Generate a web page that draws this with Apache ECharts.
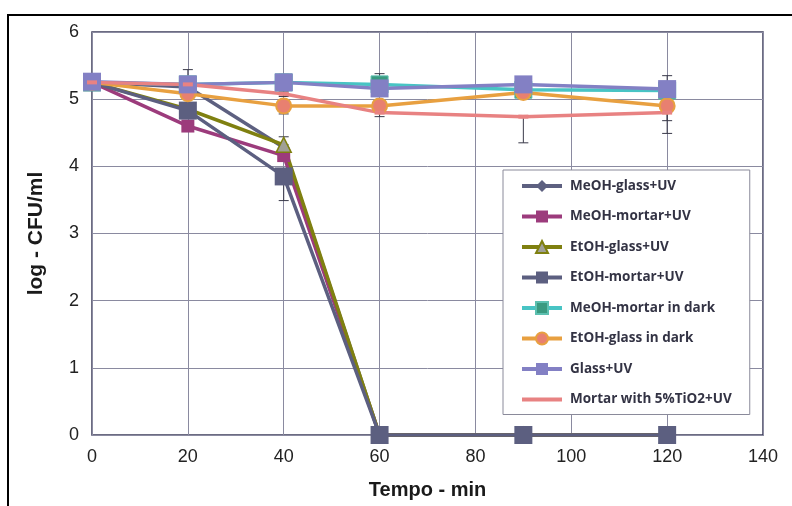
<!DOCTYPE html>
<html>
<head>
<meta charset="utf-8">
<script src="https://cdn.jsdelivr.net/npm/echarts@6/dist/echarts.min.js"></script>
<style>html,body{margin:0;padding:0;background:#fff;}#c{width:792px;height:506px;}</style>
</head>
<body>
<div id="c"></div>
<script>
const times = [0, 20, 40, 60, 90, 120];
const xTicks = [0, 20, 40, 60, 80, 100, 120, 140];
const yTicks = [0, 1, 2, 3, 4, 5, 6];
const seriesNames = ['MeOH-glass+UV','MeOH-mortar+UV','EtOH-glass+UV','EtOH-mortar+UV','MeOH-mortar in dark','EtOH-glass in dark','Glass+UV','Mortar with 5%TiO2+UV'];
const meohGlassUV   = [5.25, 5.18, 4.28, 0, 0, 0];
const meohMortarUV  = [5.25, 4.60, 4.16, 0, 0, 0];
const etohGlassUV   = [5.25, 4.85, 4.32, 0, 0, 0];
const etohMortarUV  = [5.25, 4.83, 3.85, 0, 0, 0];
const meohMortarDark= [5.25, 5.22, 5.25, 5.22, 5.14, 5.13];
const etohGlassDark = [5.25, 5.08, 4.90, 4.90, 5.10, 4.90];
const glassUV       = [5.26, 5.22, 5.25, 5.16, 5.22, 5.15];
const mortarTiO2UV  = [5.25, 5.22, 5.08, 4.80, 4.74, 4.80];
const errX    = [20, 40, 40, 40, 40, 40, 60, 60, 90, 120, 120, 120];
const errLow  = [5.22, 5.25, 5.04, 4.78, 4.32, 3.49, 5.22, 4.74, 4.35, 5.15, 4.68, 4.49];
const errHigh = [5.44, 5.37, 5.11, 4.90, 4.44, 3.85, 5.38, 4.83, 4.74, 5.35, 4.81, 4.90];

const pts = vals => times.map((t, i) => [t, vals[i]]);
function mk(name, vals, color, symbol, size, itemStyle) {
  return {
    name, type: 'line', data: pts(vals), clip: false,
    symbol, symbolSize: size,
    lineStyle: { color: color, width: 3.5 },
    itemStyle: Object.assign({ color: color }, itemStyle || {}),
    emphasis: { disabled: true }, animation: false
  };
}
const errData = errX.map((x, i) => [x, errLow[i], errHigh[i]]);
const legendData = seriesNames.map((n, i) => i === 7 ? { name: n, icon: 'path://M0,0H40V4H0Z' } : { name: n });
const chart = echarts.init(document.getElementById('c'));
chart.setOption({
  animation: false,
  backgroundColor: '#fff',
  graphic: [{ type: 'rect', shape: { x: 8, y: 15, width: 800, height: 520 }, style: { fill: 'none', stroke: '#000', lineWidth: 2 }, silent: true }],
  grid: { left: 92, right: 29, top: 32, bottom: 71, show: true, borderColor: '#3c3c5a', borderWidth: 1.5, backgroundColor: 'transparent' },
  xAxis: {
    type: 'value', min: xTicks[0], max: xTicks[xTicks.length - 1], interval: 20,
    name: 'Tempo - min', nameLocation: 'middle', nameGap: 45,
    nameTextStyle: { fontFamily: 'Liberation Sans', fontWeight: 'bold', fontSize: 20, color: '#1a1a1a' },
    axisLine: { show: false }, axisTick: { show: false },
    axisLabel: { fontFamily: 'Liberation Sans', fontSize: 18, color: '#222', margin: 13 },
    splitLine: { show: true, lineStyle: { color: '#8a8aa0', width: 1 } }
  },
  yAxis: {
    type: 'value', min: yTicks[0], max: yTicks[yTicks.length - 1], interval: 1,
    name: 'log - CFU/ml', nameLocation: 'middle', nameGap: 45,
    nameTextStyle: { fontFamily: 'Liberation Sans', fontWeight: 'bold', fontSize: 21, color: '#1a1a1a' },
    axisLine: { show: false }, axisTick: { show: false },
    axisLabel: { fontFamily: 'Liberation Sans', fontSize: 18, color: '#222', margin: 13 },
    splitLine: { show: true, lineStyle: { color: '#8a8aa0', width: 1 } }
  },
  legend: {
    orient: 'vertical', left: 503, top: 170,
    data: legendData,
    itemWidth: 40, itemHeight: 15, itemGap: 16.5,
    padding: [9, 18, 8, 17],
    lineStyle: { width: 4 },
    backgroundColor: '#fff', borderColor: '#8a8a9a', borderWidth: 1,
    textStyle: { fontFamily: 'Open Sans', fontWeight: 'bold', fontSize: 13.5, color: '#333344', padding: [0, 0, 0, 3] }
  },
  series: [
    {
      type: 'custom', name: 'err', data: errData, z: 1, clip: false,
      renderItem: function (params, api) {
        const x = api.value(0);
        const a = api.coord([x, api.value(1)]);
        const b = api.coord([x, api.value(2)]);
        const w = 5;
        const st = { stroke: '#3a3a4a', lineWidth: 1 };
        return { type: 'group', children: [
          { type: 'line', shape: { x1: a[0], y1: a[1], x2: b[0], y2: b[1] }, style: st },
          { type: 'line', shape: { x1: a[0] - w, y1: a[1], x2: a[0] + w, y2: a[1] }, style: st },
          { type: 'line', shape: { x1: b[0] - w, y1: b[1], x2: b[0] + w, y2: b[1] }, style: st }
        ]};
      }
    },
    mk(seriesNames[0], meohGlassUV, '#5d6080', 'diamond', 12),
    mk(seriesNames[1], meohMortarUV, '#9c3b7c', 'rect', 13),
    mk(seriesNames[2], etohGlassUV, '#7f8010', 'triangle', 15, { color: '#a0a096', borderColor: '#7f8010', borderWidth: 1.5 }),
    mk(seriesNames[3], etohMortarUV, '#5c5f80', 'rect', 18),
    mk(seriesNames[4], meohMortarDark, '#48c4c4', 'rect', 17, { color: '#3a9a80', borderColor: '#5cc0b0', borderWidth: 1 }),
    mk(seriesNames[5], etohGlassDark, '#e8a040', 'circle', 15, { color: '#e88070', borderColor: '#e8a040', borderWidth: 2 }),
    mk(seriesNames[6], glassUV, '#8380c4', 'rect', 18),
    mk(seriesNames[7], mortarTiO2UV, '#e88282', 'rect', [10, 4])
  ]
});
</script>
</body>
</html>
